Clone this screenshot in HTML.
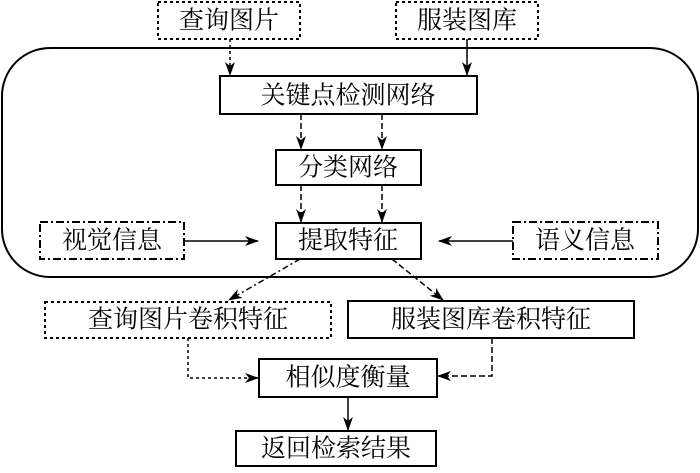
<!DOCTYPE html>
<html><head><meta charset="utf-8"><style>
body{margin:0;background:#fff}
svg text{font-family:"Liberation Serif","Noto Serif CJK SC","Noto Sans CJK SC",serif;font-size:25px;text-anchor:middle;dominant-baseline:central;fill:#000}
</style></head><body>
<svg width="700" height="468" viewBox="0 0 700 468" xmlns="http://www.w3.org/2000/svg">
<defs><marker id="a" markerWidth="14" markerHeight="10" refX="13" refY="5" orient="auto" markerUnits="userSpaceOnUse"><path d="M0,0 L14,5 L0,10 L4,5 Z" fill="#000"/></marker></defs>
<g fill="none" stroke="#000" stroke-width="2">
<rect x="2" y="48" width="696" height="229" rx="48"/>
<rect x="158" y="2" width="142" height="37" stroke-dasharray="3,3"/>
<rect x="396" y="2" width="142" height="37" stroke-dasharray="3,3"/>
<rect x="220" y="76" width="257" height="38"/>
<rect x="276" y="150" width="145" height="35"/>
<rect x="276" y="223" width="145" height="36"/>
<rect x="40" y="222" width="144" height="37" stroke-dasharray="8,3,2,3"/>
<rect x="513" y="222" width="145" height="37" stroke-dasharray="8,3,2,3"/>
<rect x="45" y="302" width="286" height="36" stroke-dasharray="3,3"/>
<rect x="348" y="301" width="286" height="37"/>
<rect x="259" y="359" width="178" height="38"/>
<rect x="236" y="431" width="200" height="35"/>
</g>
<g fill="none" stroke="#000" stroke-width="1.5">
<line x1="230" y1="39" x2="230" y2="75" stroke-dasharray="3,3" marker-end="url(#a)"/>
<line x1="467" y1="39" x2="467" y2="75" marker-end="url(#a)"/>
<line x1="301" y1="114" x2="301" y2="149" stroke-dasharray="6,3" marker-end="url(#a)"/>
<line x1="382" y1="114" x2="382" y2="149" stroke-dasharray="6,3" marker-end="url(#a)"/>
<line x1="301" y1="185" x2="301" y2="222" stroke-dasharray="6,3" marker-end="url(#a)"/>
<line x1="382" y1="185" x2="382" y2="222" stroke-dasharray="6,3" marker-end="url(#a)"/>
<line x1="184" y1="241" x2="258" y2="241" marker-end="url(#a)"/>
<line x1="513" y1="241" x2="439" y2="241" marker-end="url(#a)"/>
<line x1="300" y1="259" x2="229" y2="300" stroke-dasharray="6,3,2,3" marker-end="url(#a)"/>
<line x1="392" y1="259" x2="443" y2="300" stroke-dasharray="6,3" marker-end="url(#a)"/>
<polyline points="188,338 188,378 258,378" stroke-dasharray="3,3" marker-end="url(#a)"/>
<polyline points="492,338 492,376 438,376" stroke-dasharray="6,3" marker-end="url(#a)"/>
<line x1="348" y1="397" x2="348" y2="430" marker-end="url(#a)"/>
</g>
<text x="229" y="21">查询图片</text>
<text x="467" y="21">服装图库</text>
<text x="348" y="96">关键点检测网络</text>
<text x="348" y="168">分类网络</text>
<text x="348" y="241">提取特征</text>
<text x="112" y="241">视觉信息</text>
<text x="585" y="241">语义信息</text>
<text x="188" y="320">查询图片卷积特征</text>
<text x="491" y="320">服装图库卷积特征</text>
<text x="348" y="378">相似度衡量</text>
<text x="336" y="449">返回检索结果</text>
</svg>
</body></html>
